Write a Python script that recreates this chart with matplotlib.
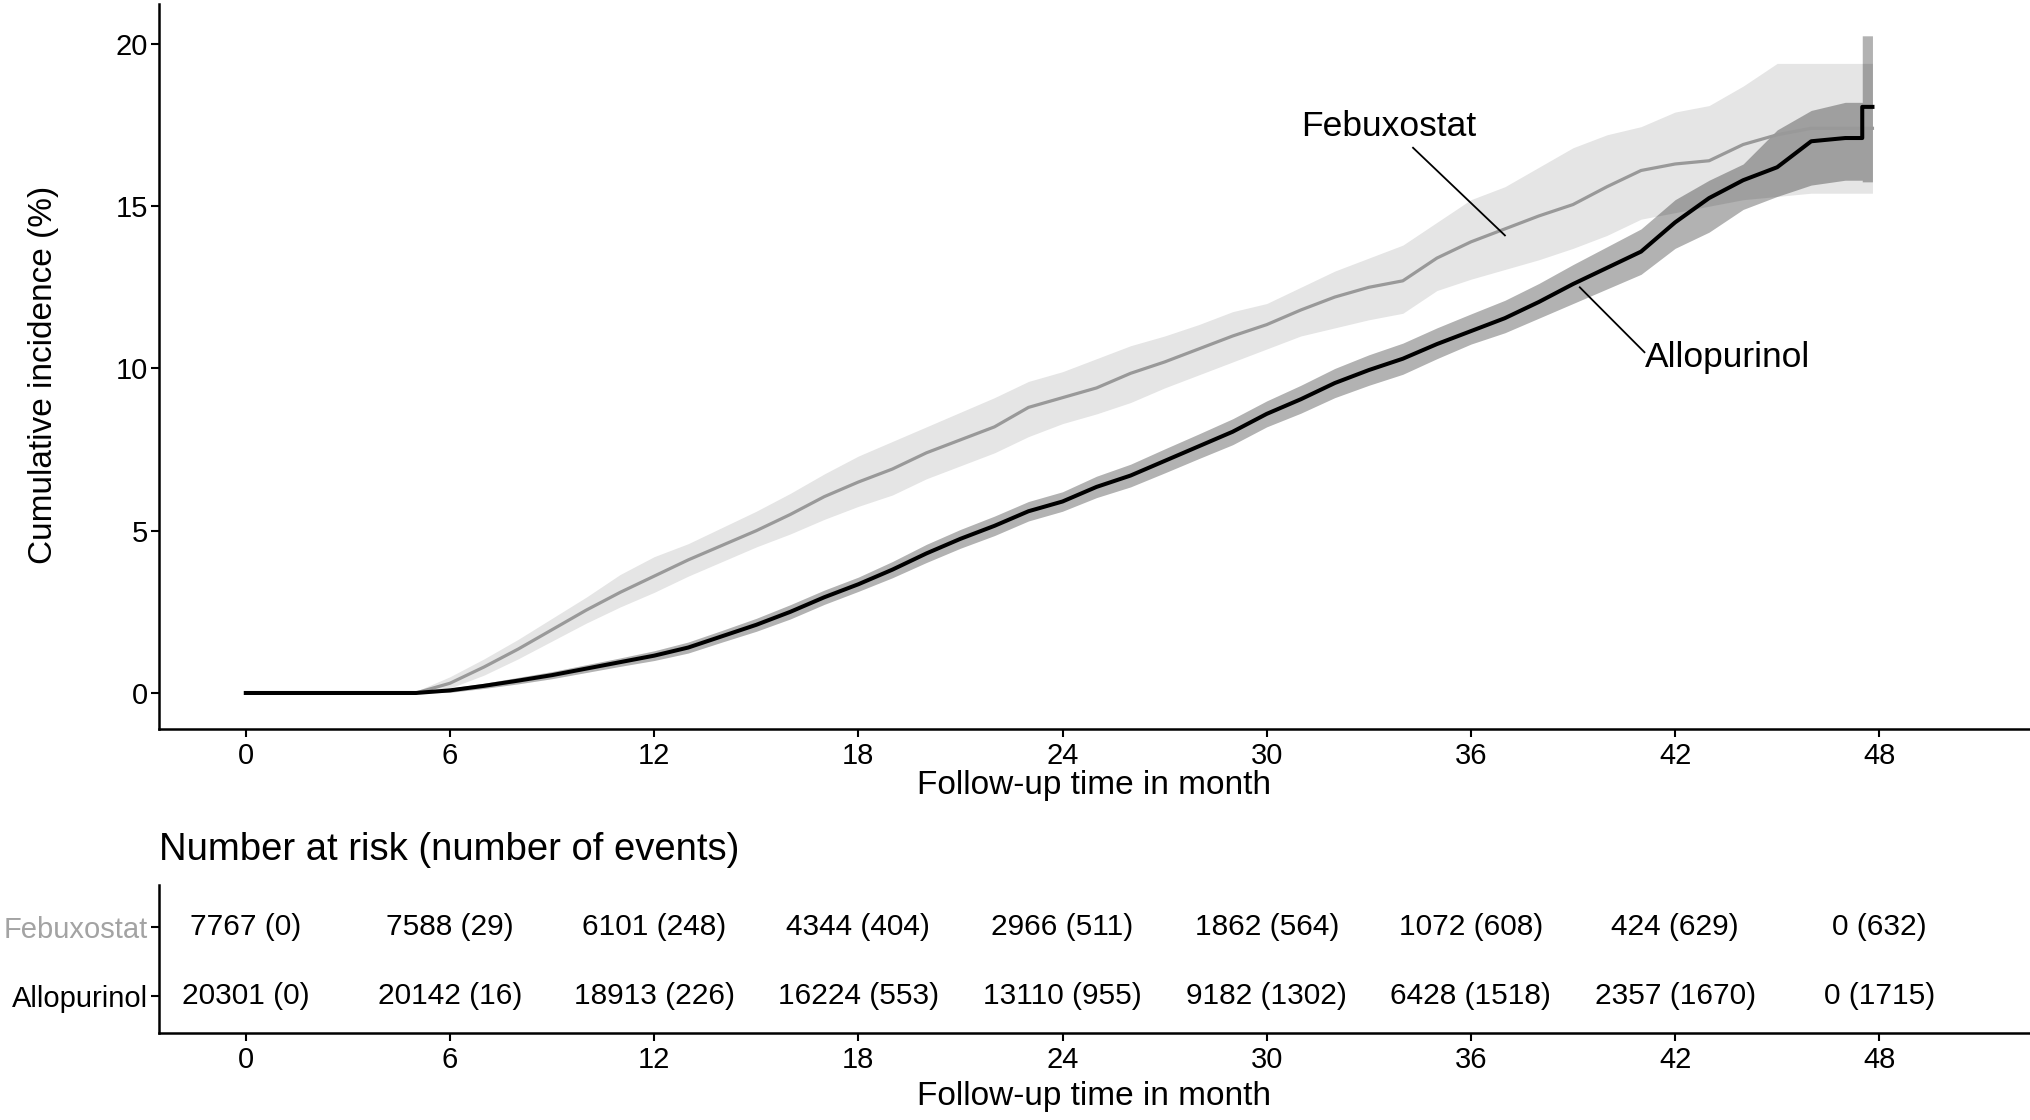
import numpy as np
import matplotlib
matplotlib.use("Agg")
import matplotlib.pyplot as plt

plt.rcParams['font.family'] = ['Liberation Sans', 'DejaVu Sans']

# Follow-up time (months); tail has a vertical step at 47.5
months = list(range(48)) + [47.5, 47.5, 47.8]

# Cumulative incidence (%)
febux = [0, 0, 0, 0, 0, 0.0, 0.3, 0.8, 1.35, 1.95, 2.55, 3.1, 3.6, 4.1, 4.55, 5.0,
         5.5, 6.05, 6.5, 6.9, 7.4, 7.8, 8.2, 8.8, 9.1, 9.4, 9.85, 10.2, 10.6, 11.0,
         11.35, 11.8, 12.2, 12.5, 12.7, 13.4, 13.9, 14.3, 14.7, 15.05, 15.6, 16.1,
         16.3, 16.4, 16.9, 17.2, 17.4, 17.4, 17.4, 17.4, 17.4]
febux_hi = [0, 0, 0, 0, 0, 0.05, 0.5, 1.05, 1.65, 2.3, 2.95, 3.65, 4.2, 4.6, 5.1, 5.6,
            6.15, 6.75, 7.3, 7.75, 8.2, 8.65, 9.1, 9.6, 9.9, 10.3, 10.7, 11.0, 11.35,
            11.75, 12.0, 12.5, 13.0, 13.4, 13.8, 14.5, 15.2, 15.6, 16.2, 16.8, 17.2,
            17.45, 17.9, 18.1, 18.7, 19.4, 19.4, 19.4, 19.4, 19.4, 19.4]
febux_lo = [0, 0, 0, 0, 0, 0, 0.15, 0.55, 1.05, 1.6, 2.15, 2.65, 3.1, 3.6, 4.05, 4.5,
            4.9, 5.35, 5.75, 6.1, 6.6, 7.0, 7.4, 7.9, 8.3, 8.6, 8.95, 9.4, 9.8, 10.2,
            10.6, 11.0, 11.25, 11.5, 11.7, 12.4, 12.75, 13.05, 13.35, 13.7, 14.1, 14.6,
            14.8, 15.0, 15.2, 15.3, 15.4, 15.4, 15.4, 15.4, 15.4]

allo = [0, 0, 0, 0, 0, 0, 0.08, 0.22, 0.38, 0.55, 0.75, 0.95, 1.15, 1.4, 1.75, 2.1,
        2.5, 2.95, 3.35, 3.8, 4.3, 4.75, 5.15, 5.6, 5.9, 6.35, 6.7, 7.15, 7.6, 8.05,
        8.6, 9.05, 9.55, 9.95, 10.3, 10.75, 11.15, 11.55, 12.05, 12.6, 13.1, 13.6,
        14.5, 15.25, 15.8, 16.2, 17.0, 17.1, 17.1, 18.06, 18.06]
allo_hi = [0, 0, 0, 0, 0, 0, 0.15, 0.3, 0.48, 0.66, 0.87, 1.08, 1.3, 1.57, 1.93, 2.3,
           2.72, 3.17, 3.57, 4.05, 4.58, 5.04, 5.45, 5.9, 6.2, 6.68, 7.05, 7.52, 7.98,
           8.45, 9.0, 9.48, 10.0, 10.42, 10.78, 11.25, 11.68, 12.1, 12.62, 13.2, 13.75,
           14.3, 15.2, 15.8, 16.3, 17.35, 17.95, 18.2, 18.2, 20.25, 20.25]
allo_lo = [0, 0, 0, 0, 0, 0, 0.02, 0.14, 0.28, 0.44, 0.63, 0.82, 1.0, 1.23, 1.57, 1.9,
           2.28, 2.73, 3.13, 3.55, 4.02, 4.46, 4.85, 5.3, 5.6, 6.02, 6.35, 6.78, 7.22,
           7.65, 8.2, 8.62, 9.1, 9.48, 9.82, 10.3, 10.75, 11.1, 11.55, 12.0, 12.45,
           12.9, 13.7, 14.2, 14.9, 15.3, 15.65, 15.8, 15.8, 15.75, 15.75]

# Number at risk table
risk_times = [0, 6, 12, 18, 24, 30, 36, 42, 48]
febux_risk = [7767, 7588, 6101, 4344, 2966, 1862, 1072, 424, 0]
febux_events = [0, 29, 248, 404, 511, 564, 608, 629, 632]
allo_risk = [20301, 20142, 18913, 16224, 13110, 9182, 6428, 2357, 0]
allo_events = [0, 16, 226, 553, 955, 1302, 1518, 1670, 1715]
groups = ['Febuxostat', 'Allopurinol']

W, H = 2030, 1120
fig = plt.figure(figsize=(W / 100, H / 100), dpi=100)

# ---------- main curves ----------
ax = fig.add_axes([159 / W, 1 - 729 / H, (2029 - 159) / W, (729 - 4) / H])
ax.fill_between(months, febux_lo, febux_hi, color='#e5e5e5', lw=0)
ax.fill_between(months, allo_lo, allo_hi, color='black', alpha=0.3, lw=0)
ax.plot(months, febux, color='#999999', lw=2.3)
ax.plot(months, allo, color='black', lw=2.9)

ax.set_xlim(-2.55, 52.4)
ax.set_ylim(-1.11, 21.23)
ax.set_xticks(risk_times)
ax.set_yticks([0, 5, 10, 15, 20])
for s in ['top', 'right']:
    ax.spines[s].set_visible(False)
for s in ['left', 'bottom']:
    ax.spines[s].set_linewidth(1.8)
ax.tick_params(axis='both', labelsize=21, length=6, width=1.5, colors='black')
ax.tick_params(axis='x', pad=3)
ax.tick_params(axis='y', pad=2)
ax.set_xlabel('Follow-up time in month', fontsize=24)
ax.xaxis.label.set_va('center')
ax.xaxis.set_label_coords(0.5, -0.0786)
ax.set_ylabel('Cumulative incidence (%)', fontsize=24)
ax.yaxis.label.set_va('center')
ax.yaxis.set_label_coords(-0.062, 0.488)

# curve labels with leader lines
ax.plot([34.3, 37.0], [16.8, 14.1], color='black', lw=1.3)
ax.text(31.0, 17.45, 'Febuxostat', fontsize=25.5, va='center', ha='left')
ax.plot([39.2, 41.1], [12.5, 10.5], color='black', lw=1.3)
ax.text(41.1, 10.35, 'Allopurinol', fontsize=25.5, va='center', ha='left')

# ---------- risk table ----------
rx = fig.add_axes([159 / W, 1 - 1033 / H, (2029 - 159) / W, (1033 - 885) / H])
rx.set_xlim(-2.55, 52.4)
rx.set_ylim(0.46, 2.61)
for t, n, e in zip(risk_times, febux_risk, febux_events):
    rx.text(t, 2, f'{n} ({e})', fontsize=21.5, ha='center', va='center')
for t, n, e in zip(risk_times, allo_risk, allo_events):
    rx.text(t, 1, f'{n} ({e})', fontsize=21.5, ha='center', va='center')
rx.set_yticks([2, 1])
rx.set_yticklabels(groups)
rx.get_yticklabels()[0].set_color('#a3a3a3')
rx.set_xticks(risk_times)
for s in ['top', 'right']:
    rx.spines[s].set_visible(False)
for s in ['left', 'bottom']:
    rx.spines[s].set_linewidth(1.8)
rx.tick_params(axis='both', labelsize=21, length=6, width=1.5)
rx.tick_params(axis='x', pad=3)
rx.tick_params(axis='y', pad=2)
rx.set_xlabel('Follow-up time in month', fontsize=24)
rx.xaxis.label.set_va('center')
rx.xaxis.set_label_coords(0.5, -0.432)
rx.set_title('Number at risk (number of events)', fontsize=27.5, loc='left', pad=18)

fig.savefig('out.png', dpi=100)
